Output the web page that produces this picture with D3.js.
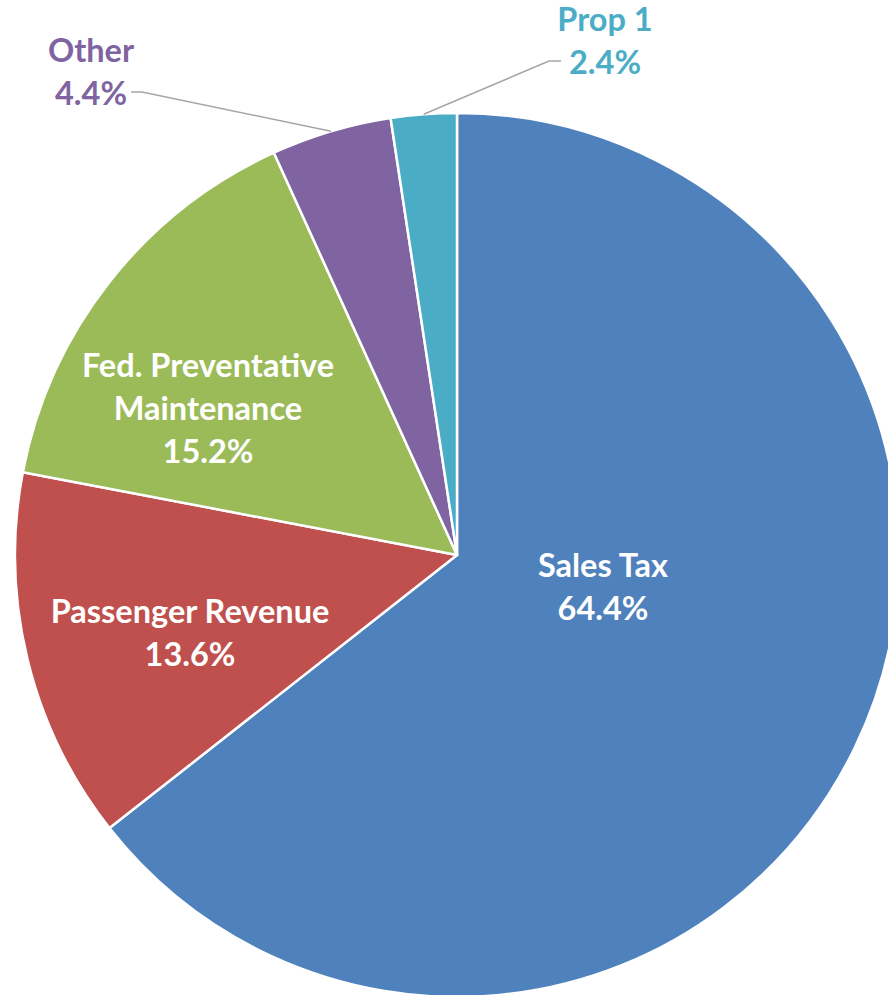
<!DOCTYPE html>
<meta charset="utf-8">
<style>
	body { margin: 0; background: #fff; }
	.lbl { font-family: Lato, "Open Sans", sans-serif; font-weight: bold; font-size: 32.5px; text-anchor: middle; }
</style>
<body>
<script src="https://d3js.org/d3.v7.min.js"></script>
<script>

	// slices, clockwise from 12 o'clock
	var categories = ["Sales Tax", "Passenger Revenue", "Fed. Preventative Maintenance", "Other", "Prop 1"];
	var shares = [64.4, 13.6, 15.2, 4.4, 2.4];
	var shareLabels = ["64.4%", "13.6%", "15.2%", "4.4%", "2.4%"];
	var colors = ["#4F81BD", "#C0504D", "#9BBB59", "#8064A2", "#4BACC6"];

	var width = 888, height = 995;
	var cx = 457, cy = 555, radius = 442;

	var svg = d3.select("body").append("svg")
		.attr("width", width)
		.attr("height", height);

	var g = svg.append("g")
		.attr("transform", "translate(" + cx + "," + cy + ")");

	var val = categories.map(function(c, i) {
		return {name: c, value: shares[i], pct: shareLabels[i], color: colors[i]};
	});

	var pie = d3.pie()
		.sort(null)
		.value(function(d) { return d.value; });

	var arc = d3.arc()
		.innerRadius(0)
		.outerRadius(radius);

	var arcs = pie(val);

	g.selectAll(".slice")
		.data(arcs)
		.enter().append("path")
		.attr("class", "slice")
		.attr("d", arc)
		.attr("fill", function(d) { return d.data.color; })
		.attr("stroke", "#fff")
		.attr("stroke-width", 2.5)
		.attr("stroke-linejoin", "round");

	// label placement (page coords) - Excel puts them where it likes, so by hand
	var labelPlace = {
		"Sales Tax":        {x: 603, y: 577, lines: ["Sales Tax"], fill: "#fff"},
		"Passenger Revenue": {x: 190, y: 623, lines: ["Passenger Revenue"], fill: "#fff"},
		"Fed. Preventative Maintenance": {x: 208, y: 377, lines: ["Fed. Preventative", "Maintenance"], fill: "#fff"},
		"Other":            {x: 91, y: 62, lines: ["Other"], fill: null, leader: [131, 142]},
		"Prop 1":           {x: 605, y: 31, lines: ["Prop 1"], fill: null, leader: [561, 549]}
	};
	var lineGap = 43;

	// leader lines for the small outside slices
	var edge = d3.arc().innerRadius(radius).outerRadius(radius);
	arcs.forEach(function(d) {
		var p = labelPlace[d.data.name];
		if (!p.leader) return;
		var c = edge.centroid(d);
		var ex = cx + c[0], ey = cy + c[1];
		var ly = p.y + lineGap * p.lines.length - 13;
		svg.append("polyline")
			.attr("points", [[p.leader[0], ly], [p.leader[1], ly], [ex, ey]].map(function(q) { return q.join(","); }).join(" "))
			.attr("fill", "none")
			.attr("stroke", "#a6a6a6")
			.attr("stroke-width", 1.5);
	});

	arcs.forEach(function(d) {
		var p = labelPlace[d.data.name];
		var t = svg.append("text")
			.attr("class", "lbl")
			.attr("x", p.x)
			.attr("y", p.y)
			.attr("fill", p.fill || d.data.color);
		p.lines.concat([d.data.pct]).forEach(function(s, i) {
			t.append("tspan")
				.attr("x", p.x)
				.attr("dy", i === 0 ? 0 : lineGap)
				.text(s);
		});
	});

</script>
</body>
